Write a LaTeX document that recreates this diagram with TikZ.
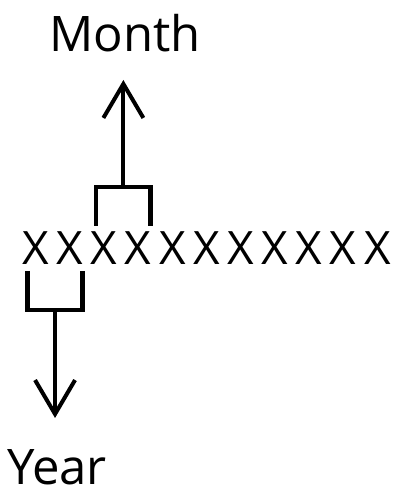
\documentclass[tikz,border=0pt]{standalone}
\usepackage{fontspec}
\setmainfont{Open Sans}
\usetikzlibrary{positioning, arrows.meta, calc}
\tikzset{
    x=1pt, y=1pt, % one unit is one point
    letter/.style={font=\fontsize{46}{46}\selectfont, inner sep=0pt, anchor=base}, % the row of X
    fieldname/.style={font=\fontsize{49}{49}\selectfont, inner sep=0pt}, % the words at the ends
    bracket/.style={line width=4.8pt}, % the square brackets under and over the X
    pointer/.style={line width=4pt, -{Straight Barb[length=34pt, width=40pt]}}, % the open arrows
}
\begin{document}
\begin{tikzpicture}
        \useasboundingbox (0,0) rectangle (400,492);
        \foreach \i in {1,...,11}
            \node[letter] (x\i) at ({35.7+(\i-1)*34.17}, 227) {X};

        % first two X: year
        \coordinate (yl) at ($(x1.base)+(-8,-6)$);
        \coordinate (yr) at ($(x2.base)+(12.5,-6)$);
        \coordinate (ymid) at ($(yl)!0.5!(yr)+(0,-39)$);
        \coordinate (ytip) at ($(ymid)+(0,-108)$);
        \node[fieldname, below=31pt of ytip, xshift=2pt] (year) {Year};
        \draw[bracket] (yl) -- ++(0,-39) -| (yr);
        \draw[pointer] (ymid) -- (ytip);

        % next two X: month
        \coordinate (ml) at ($(x3.base)+(-8,39)$);
        \coordinate (mr) at ($(x4.base)+(12.5,39)$);
        \coordinate (mmid) at ($(ml)!0.5!(mr)+(0,39)$);
        \coordinate (mtip) at ($(mmid)+(0,107)$);
        \node[fieldname, above=28pt of mtip, xshift=2pt] (month) {Month};
        \draw[bracket] (ml) -- ++(0,39) -| (mr);
        \draw[pointer] (mmid) -- (mtip);
\end{tikzpicture}
\end{document}
